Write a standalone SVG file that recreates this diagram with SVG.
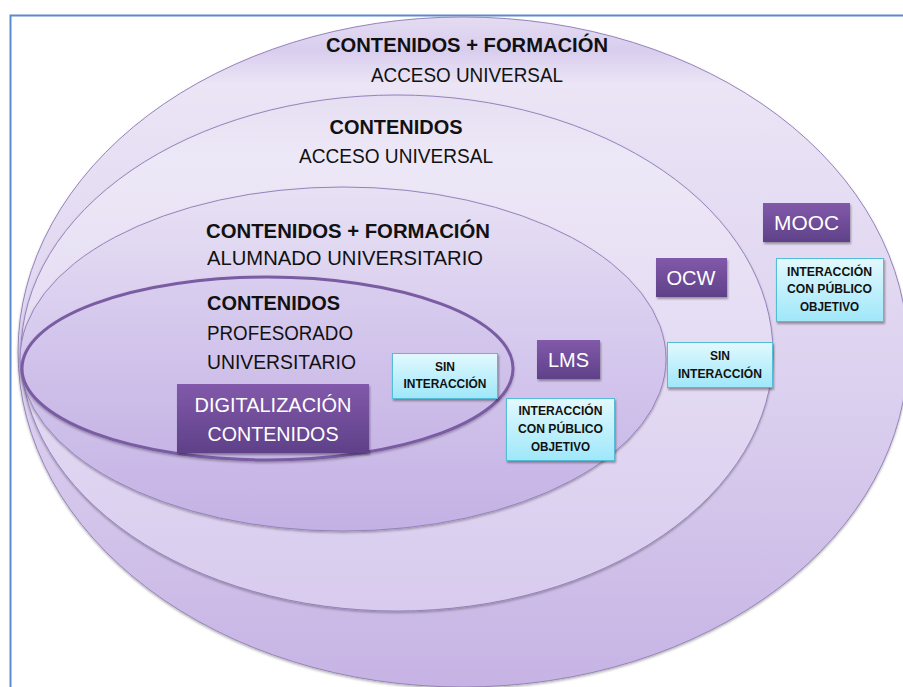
<svg xmlns="http://www.w3.org/2000/svg" width="903" height="687" viewBox="0 0 903 687">
<defs>
<linearGradient id="g1" x1="0" y1="0" x2="0" y2="1">
<stop offset="0" stop-color="#e4dcf2"/>
<stop offset="0.05" stop-color="#d9cdee"/>
<stop offset="0.1" stop-color="#ebe5f6"/>
<stop offset="0.55" stop-color="#dcd1ef"/>
<stop offset="1" stop-color="#c6b3e4"/>
</linearGradient>
<linearGradient id="g2" x1="0" y1="0" x2="0" y2="1">
<stop offset="0" stop-color="#e6dff3"/>
<stop offset="0.12" stop-color="#ede8f7"/>
<stop offset="1" stop-color="#d8cbee"/>
</linearGradient>
<linearGradient id="g3" x1="0" y1="0" x2="0" y2="1">
<stop offset="0" stop-color="#e8e1f4"/>
<stop offset="0.5" stop-color="#d4c7ed"/>
<stop offset="1" stop-color="#c4b1e4"/>
</linearGradient>
<linearGradient id="g4" x1="0" y1="0" x2="0" y2="1">
<stop offset="0" stop-color="#d9ceef"/>
<stop offset="1" stop-color="#c6b4e5"/>
</linearGradient>
<linearGradient id="gd" x1="0" y1="0" x2="0" y2="1">
<stop offset="0" stop-color="#8159aa"/>
<stop offset="1" stop-color="#5f4189"/>
</linearGradient>
<linearGradient id="gl" x1="0" y1="0" x2="0" y2="1">
<stop offset="0" stop-color="#e2f9fe"/>
<stop offset="1" stop-color="#9fe7fa"/>
</linearGradient>
<filter id="sh" x="-10%" y="-10%" width="120%" height="130%">
<feDropShadow dx="1" dy="2" stdDeviation="1.2" flood-color="#000" flood-opacity="0.35"/>
</filter>
<filter id="esh" x="-5%" y="-5%" width="110%" height="110%">
<feDropShadow dx="0" dy="1.5" stdDeviation="1.2" flood-color="#000" flood-opacity="0.3"/>
</filter>
</defs>
<style>
.ell{stroke:#9583bb;stroke-width:1;filter:url(#esh)}
.t{font-family:"Liberation Sans",Arial,sans-serif;fill:#111}
.b{font-weight:bold}
.big{font-size:20px}
.dark{fill:url(#gd);filter:url(#sh)}
.dt{font-family:"Liberation Sans",Arial,sans-serif;fill:#fff;font-size:21px;text-anchor:middle}
.light{fill:url(#gl);stroke:#55bcd6;stroke-width:1;filter:url(#sh)}
.lt{font-family:"Liberation Sans",Arial,sans-serif;fill:#111;font-size:12px;font-weight:bold;text-anchor:middle}
.c{text-anchor:middle}
</style>
<rect x="0" y="0" width="903" height="687" fill="#fff"/>
<path d="M10.5 687 V15.5 H903" fill="none" stroke="#5a8bcf" stroke-width="2"/>

<g id="mooc-ellipse">
<ellipse class="ell" cx="463" cy="352" rx="445" ry="335" fill="url(#g1)"/>
<text class="t b big c" x="467" y="52" textLength="282" lengthAdjust="spacingAndGlyphs">CONTENIDOS + FORMACIÓN</text>
<text class="t big c" x="467" y="82" textLength="192" lengthAdjust="spacingAndGlyphs">ACCESO UNIVERSAL</text>
</g>
<g id="ocw-ellipse">
<ellipse class="ell" cx="397" cy="353" rx="376" ry="258" fill="url(#g2)"/>
<text class="t b big c" x="396" y="134" textLength="133" lengthAdjust="spacingAndGlyphs">CONTENIDOS</text>
<text class="t big c" x="396" y="163" textLength="194" lengthAdjust="spacingAndGlyphs">ACCESO UNIVERSAL</text>
</g>
<g id="lms-ellipse">
<ellipse class="ell" cx="343" cy="359" rx="323" ry="172" fill="url(#g3)"/>
<text class="t b big c" x="348" y="238" textLength="284" lengthAdjust="spacingAndGlyphs">CONTENIDOS + FORMACIÓN</text>
<text class="t big c" x="345" y="265" textLength="276" lengthAdjust="spacingAndGlyphs">ALUMNADO UNIVERSITARIO</text>
</g>
<g id="digital-ellipse">
<ellipse cx="267.5" cy="368.5" rx="245.5" ry="91.5" fill="url(#g4)" stroke="#7a5ca3" stroke-width="3" filter="url(#esh)"/>
<text class="t b big" x="207" y="310" textLength="133" lengthAdjust="spacingAndGlyphs">CONTENIDOS</text>
<text class="t big" x="207" y="340" textLength="146" lengthAdjust="spacingAndGlyphs">PROFESORADO</text>
<text class="t big" x="207" y="369" textLength="149" lengthAdjust="spacingAndGlyphs">UNIVERSITARIO</text>
</g>

<g id="digitalizacion">
<rect class="dark" x="177" y="384" width="192" height="69"/>
<text class="dt" x="273" y="412" textLength="157" lengthAdjust="spacingAndGlyphs">DIGITALIZACIÓN</text>
<text class="dt" x="273" y="441" textLength="131" lengthAdjust="spacingAndGlyphs">CONTENIDOS</text>
</g>
<g id="sin-interaccion-1">
<rect class="light" x="392.5" y="353.5" width="105" height="45"/>
<text class="lt" x="445" y="371">SIN</text>
<text class="lt" x="445" y="388" textLength="83" lengthAdjust="spacingAndGlyphs">INTERACCIÓN</text>
</g>
<g id="lms">
<rect class="dark" x="537" y="340" width="63" height="39"/>
<text class="dt" x="568.5" y="367" textLength="41" lengthAdjust="spacingAndGlyphs">LMS</text>
</g>
<g id="interaccion-lms">
<rect class="light" x="506.5" y="398.5" width="108" height="62"/>
<text class="lt" x="560.5" y="415" textLength="84" lengthAdjust="spacingAndGlyphs">INTERACCIÓN</text>
<text class="lt" x="560.5" y="433" textLength="85" lengthAdjust="spacingAndGlyphs">CON PÚBLICO</text>
<text class="lt" x="560.5" y="451" textLength="59" lengthAdjust="spacingAndGlyphs">OBJETIVO</text>
</g>
<g id="ocw">
<rect class="dark" x="656" y="258" width="71" height="39"/>
<text class="dt" x="691" y="285" textLength="49" lengthAdjust="spacingAndGlyphs">OCW</text>
</g>
<g id="sin-interaccion-2">
<rect class="light" x="667.5" y="342.5" width="105" height="45"/>
<text class="lt" x="720" y="360">SIN</text>
<text class="lt" x="720" y="378" textLength="84" lengthAdjust="spacingAndGlyphs">INTERACCIÓN</text>
</g>
<g id="mooc">
<rect class="dark" x="763" y="203" width="87" height="39"/>
<text class="dt" x="806.5" y="230" textLength="65" lengthAdjust="spacingAndGlyphs">MOOC</text>
</g>
<g id="interaccion-mooc">
<rect class="light" x="776.5" y="258.5" width="107" height="63"/>
<text class="lt" x="829.5" y="276" textLength="85" lengthAdjust="spacingAndGlyphs">INTERACCIÓN</text>
<text class="lt" x="829.5" y="293" textLength="85" lengthAdjust="spacingAndGlyphs">CON PÚBLICO</text>
<text class="lt" x="829.5" y="311" textLength="59" lengthAdjust="spacingAndGlyphs">OBJETIVO</text>
</g>
<g id="connectors"/>
</svg>
